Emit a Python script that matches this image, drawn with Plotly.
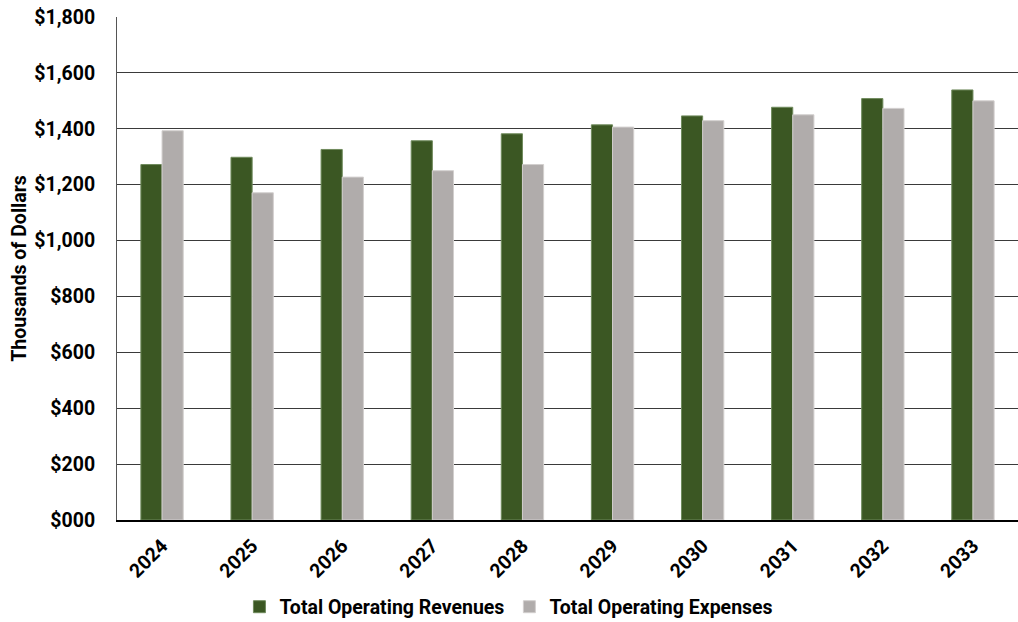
import plotly.graph_objects as go

years = ["2024", "2025", "2026", "2027", "2028", "2029", "2030", "2031", "2032", "2033"]
revenues = [1272, 1298, 1326, 1357, 1382, 1414, 1446, 1477, 1508, 1539]
expenses = [1393, 1171, 1227, 1250, 1272, 1406, 1429, 1450, 1473, 1500]

y_ticks = [0, 200, 400, 600, 800, 1000, 1200, 1400, 1600, 1800]
y_tick_labels = ["$000", "$200", "$400", "$600", "$800", "$1,000", "$1,200", "$1,400", "$1,600", "$1,800"]

font_family = "Roboto"
bold_font = dict(family=font_family, size=19.5, color="#000000", weight="bold")

fig = go.Figure()
fig.add_trace(go.Bar(
    x=years, y=revenues, name="Total Operating Revenues",
    marker=dict(color="#3b5723", line=dict(color="#6f8a5c", width=1)),
))
fig.add_trace(go.Bar(
    x=years, y=expenses, name="Total Operating Expenses",
    marker=dict(color="#b0acab", line=dict(color="#d2cfce", width=1)),
))

fig.update_layout(
    width=1018, height=622,
    margin=dict(l=117, r=0, t=17, b=102, autoexpand=False),
    paper_bgcolor="white", plot_bgcolor="white",
    barmode="group", bargap=0.53, bargroupgap=0,
    font=bold_font,
    showlegend=True,
    legend=dict(
        orientation="h", x=0.435, xanchor="center", y=-0.173, yanchor="middle",
        font=bold_font, itemwidth=30, tracegroupgap=0,
    ),
    xaxis=dict(
        tickangle=-45, tickfont=bold_font, automargin=False,
        showline=True, linecolor="#000000", linewidth=1.5,
        ticks="", showgrid=False, ticklabelstandoff=5,
    ),
    yaxis=dict(
        range=[0, 1800], automargin=False,
        tickvals=y_ticks, ticktext=y_tick_labels, tickfont=bold_font,
        showgrid=True, gridcolor="#3a3a3a", gridwidth=1.4,
        showline=True, linecolor="#555555", linewidth=1,
        zeroline=False, ticks="", ticklabelstandoff=17,
        title=dict(text="Thousands of Dollars",
                   font=dict(family=font_family, size=19.5, color="#000000", weight="bold"),
                   standoff=2),
    ),
)

fig.write_html("out.html")
